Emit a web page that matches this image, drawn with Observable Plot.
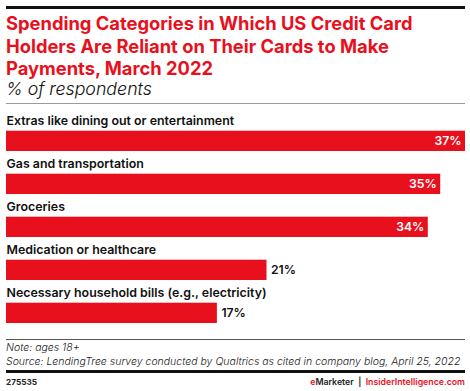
<!DOCTYPE html>
<html>
<head>
<meta charset="utf-8">
<script src="https://cdn.jsdelivr.net/npm/d3@7"></script>
<script src="https://cdn.jsdelivr.net/npm/@observablehq/plot@0.6"></script>
<style>
  html, body { margin: 0; padding: 0; background: #fff; }
  body { width: 470px; height: 391px; overflow: hidden; font-family: Inter, "Noto Sans", sans-serif; }
  #wrap { position: relative; width: 470px; }
  .rule-top { position: absolute; left: 6px; width: 459px; top: 6px; height: 3px; background: #111; }
  .title { position: absolute; left: 6px; top: 12px; color: #e8101d; font-weight: 700; font-size: 16px; line-height: 22.7px; }
  .title span { display: block; white-space: nowrap; }
  .subtitle { position: absolute; left: 6px; top: 79px; font-style: italic; font-weight: 300; font-size: 17px; line-height: 20px; color: #111; white-space: nowrap; }
  .rule-sub { position: absolute; left: 6px; width: 459px; top: 103px; height: 1px; background: #9a9a9a; }
  #chart { position: absolute; left: 0; top: 104px; }
  .rule-foot { position: absolute; left: 6px; width: 459px; top: 339px; height: 1px; background: #555; }
  .note { position: absolute; left: 6px; top: 341px; font-style: italic; font-weight: 300; font-size: 11px; line-height: 14px; color: #222; white-space: nowrap; }
  .note span { display: block; }
  .rule-bot { position: absolute; left: 6px; width: 459px; top: 370px; height: 3px; background: #111; }
  .id { position: absolute; left: 6px; top: 376px; font-weight: 700; font-size: 8.5px; line-height: 12px; color: #222; white-space: nowrap; }
  .brand { position: absolute; right: 5px; top: 376px; font-weight: 600; font-size: 9.5px; line-height: 12px; color: #222; white-space: nowrap; }
  .red { color: #e8101d; }
</style>
</head>
<body>
<div id="wrap">
  <div class="rule-top"></div>
  <div class="title" id="title"><span id="t1">Spending Categories in Which US Credit Card</span><span>Holders Are Reliant on Their Cards to Make</span><span>Payments, March 2022</span></div>
  <div class="subtitle" id="sub">% of respondents</div>
  <div class="rule-sub"></div>
  <div id="chart"></div>
  <div class="rule-foot"></div>
  <div class="note" id="note"><span>Note: ages 18+</span><span id="src">Source: LendingTree survey conducted by Qualtrics as cited in company blog, April 25, 2022</span></div>
  <div class="rule-bot"></div>
  <div class="id" id="idn">275535</div>
  <div class="brand" id="brand"><span class="red">e</span>Marketer &nbsp;|&nbsp; <span class="red">InsiderIntelligence.com</span></div>
</div>
<script>
const categories = [
  "Extras like dining out or entertainment",
  "Gas and transportation",
  "Groceries",
  "Medication or healthcare",
  "Necessary household bills (e.g., electricity)"
];
const values = [37, 35, 34, 21, 17];
const valueLabels = ["37%", "35%", "34%", "21%", "17%"];

// fit HTML text widths to the reference
function fit(boxId, measureId, target) {
  const box = document.getElementById(boxId);
  const m = document.getElementById(measureId);
  const fs = parseFloat(getComputedStyle(box).fontSize);
  const w = m.getBoundingClientRect().width;
  if (w > 0) box.style.fontSize = (fs * target / w) + "px";
}
document.querySelectorAll("#title span, #note span").forEach(s => s.style.display = "inline-block");
fit("title", "t1", 407);
fit("sub", "sub", 146);
fit("note", "src", 455);
fit("idn", "idn", 31);
fit("brand", "brand", 155);
document.querySelectorAll("#title span, #note span").forEach(s => s.style.display = "block");

const data = categories.map((c, i) => ({category: c, value: values[i], label: valueLabels[i]}));
const inside = data.filter(d => d.value > 30);
const outside = data.filter(d => d.value <= 30);

const red = "#e8101d";
const chart = Plot.plot({
  width: 470,
  height: 230,
  marginLeft: 6,
  marginRight: 5,
  marginTop: 2.3,
  marginBottom: 8.6,
  x: {domain: [0, 37], axis: null},
  y: {domain: categories, axis: null, padding: 0},
  style: {fontFamily: "Inter, 'Noto Sans', sans-serif", overflow: "visible"},
  marks: [
    Plot.barX(data, {x: "value", y: "category", fill: red, insetTop: 22.7, insetBottom: 0}),
    Plot.text(data, {x: 0, y: "category", text: "category", textAnchor: "start", dy: -8.5, fill: "#111", fontSize: 12.4, fontWeight: 600}),
    Plot.text(inside, {x: "value", y: "category", text: "label", textAnchor: "end", dx: -4, dy: 11.3, fill: "#fff", fontSize: 12.2, fontWeight: 600}),
    Plot.text(outside, {x: "value", y: "category", text: "label", textAnchor: "start", dx: 4, dy: 11.3, fill: "#111", fontSize: 12.2, fontWeight: 600})
  ]
});
document.getElementById("chart").appendChild(chart);
</script>
</body>
</html>
